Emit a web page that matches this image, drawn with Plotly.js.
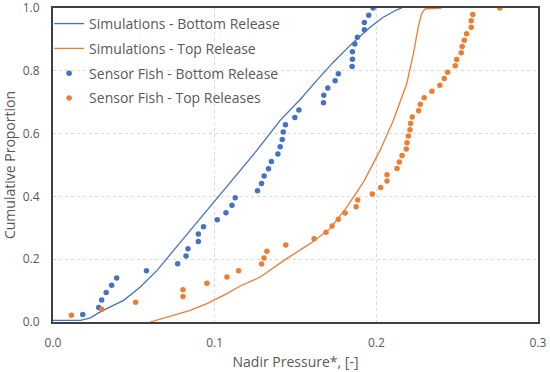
<!DOCTYPE html>
<html>
<head>
<meta charset="utf-8">
<script src="https://cdn.plot.ly/plotly-3.0.1.min.js"></script>
<style>html,body{margin:0;padding:0;background:#fff;}#chart{width:550px;height:372px;}</style>
</head>
<body>
<div id="chart"></div>
<script>
// Simulations - Bottom Release (line)
const simBottomX = [0, 0.017, 0.0232, 0.0273, 0.0335, 0.0437, 0.054, 0.0644, 0.0746, 0.0849, 0.0952, 0.1055, 0.1138, 0.1261, 0.1405, 0.1529, 0.1632, 0.1734, 0.1838, 0.1961, 0.2043, 0.2126, 0.2157];
const simBottomY = [0.0054, 0.0054, 0.0134, 0.0267, 0.0436, 0.069, 0.1114, 0.1645, 0.2282, 0.2918, 0.3555, 0.4192, 0.4723, 0.5465, 0.642, 0.7088, 0.7693, 0.8275, 0.8809, 0.9389, 0.9707, 0.9943, 1.0];

// Simulations - Top Release (line)
const simTopX = [0.0602, 0.0746, 0.0849, 0.0952, 0.1076, 0.1158, 0.1282, 0.1436, 0.159, 0.1714, 0.1817, 0.192, 0.2023, 0.2105, 0.2188, 0.2229, 0.2259, 0.228, 0.2301, 0.2404];
const simTopY = [0, 0.0213, 0.0372, 0.0586, 0.0904, 0.1146, 0.1432, 0.1986, 0.2495, 0.2973, 0.366, 0.4456, 0.5465, 0.642, 0.7588, 0.8542, 0.9389, 0.9815, 0.9975, 1.0];

// Sensor Fish - Bottom Release (points)
const fishBottomX = [0.0184, 0.0283, 0.0301, 0.0329, 0.0363, 0.0394, 0.0578, 0.0771, 0.0823, 0.0835, 0.0899, 0.0899, 0.0931, 0.1016, 0.107, 0.1107, 0.1127, 0.1265, 0.129, 0.1306, 0.1333, 0.1351, 0.1391, 0.1405, 0.1418, 0.1424, 0.1438, 0.1496, 0.1521, 0.1673, 0.1675, 0.17, 0.1745, 0.1765, 0.185, 0.1852, 0.1852, 0.1867, 0.1883, 0.1926, 0.1926, 0.1953, 0.198];
const fishBottomY = [0.0236, 0.0458, 0.07, 0.0936, 0.1168, 0.14, 0.1636, 0.1859, 0.21, 0.233, 0.256, 0.28, 0.303, 0.326, 0.348, 0.372, 0.396, 0.418, 0.441, 0.465, 0.488, 0.511, 0.535, 0.558, 0.581, 0.605, 0.628, 0.651, 0.675, 0.698, 0.722, 0.745, 0.768, 0.791, 0.814, 0.837, 0.861, 0.885, 0.907, 0.931, 0.954, 0.977, 1.0];

// Sensor Fish - Top Releases (points)
const fishTopX = [0.0114, 0.0301, 0.0511, 0.0804, 0.0804, 0.0952, 0.1076, 0.1148, 0.129, 0.1305, 0.1323, 0.144, 0.1615, 0.1689, 0.1726, 0.1765, 0.1807, 0.1875, 0.1885, 0.1975, 0.2027, 0.2066, 0.2066, 0.2128, 0.2142, 0.2159, 0.2185, 0.219, 0.2198, 0.2208, 0.2212, 0.2222, 0.2262, 0.2272, 0.2296, 0.2344, 0.2393, 0.242, 0.2441, 0.2488, 0.2497, 0.2525, 0.2531, 0.2544, 0.2558, 0.2587, 0.2587, 0.2597, 0.2764];
const fishTopY = [0.0213, 0.0404, 0.0627, 0.0815, 0.1031, 0.1232, 0.1432, 0.1636, 0.1846, 0.2037, 0.225, 0.2451, 0.2654, 0.2855, 0.3055, 0.3269, 0.3469, 0.3673, 0.3883, 0.4074, 0.4287, 0.4488, 0.4691, 0.4892, 0.5092, 0.5306, 0.5506, 0.571, 0.592, 0.6123, 0.6324, 0.6525, 0.6728, 0.6938, 0.7142, 0.7352, 0.7543, 0.7756, 0.7957, 0.816, 0.8361, 0.8574, 0.8775, 0.8975, 0.9179, 0.9389, 0.9593, 0.9793, 1.0];

const seriesNames = ["Simulations - Bottom Release", "Simulations - Top Release", "Sensor Fish - Bottom Release", "Sensor Fish - Top Releases"];
const xTickVals = [0, 0.1, 0.2, 0.3];
const xTickText = ["0.0", "0.1", "0.2", "0.3"];
const yTickVals = [0, 0.2, 0.4, 0.6, 0.8, 1.0];
const yTickText = ["0.0", "0.2", "0.4", "0.6", "0.8", "1.0"];

const BLUE = "#4472C4", ORANGE = "#ED7D31", TXT = "#595959";
const FONT = "Open Sans, Noto Sans, sans-serif";

const traces = [
  {x: simBottomX, y: simBottomY, name: seriesNames[0], legendgroup: "g1", type: "scatter", mode: "lines", line: {color: BLUE, width: 1.3}},
  {x: simTopX, y: simTopY, name: seriesNames[1], legendgroup: "g2", type: "scatter", mode: "lines", line: {color: ORANGE, width: 1.3}},
  {x: fishBottomX, y: fishBottomY, name: seriesNames[2], legendgroup: "g3", type: "scatter", mode: "markers", marker: {color: BLUE, size: 5.5}},
  {x: fishTopX, y: fishTopY, name: seriesNames[3], legendgroup: "g4", type: "scatter", mode: "markers", marker: {color: ORANGE, size: 5.5}}
];

const layout = {
  width: 550, height: 372,
  margin: {l: 52.5, r: 11.7, t: 7.5, b: 50.3},
  paper_bgcolor: "#fff", plot_bgcolor: "#fff",
  font: {family: FONT, color: TXT, size: 12},
  showlegend: true,
  legend: {
    x: -0.008, xanchor: "left", y: 1.0, yanchor: "top",
    bgcolor: "rgba(0,0,0,0)", borderwidth: 0, tracegroupgap: 3.6,
    font: {family: FONT, size: 14, color: TXT}
  },
  xaxis: {
    range: [0, 0.3], tickvals: xTickVals, ticktext: xTickText,
    showline: true, linecolor: "#404040", linewidth: 2, mirror: true,
    showgrid: true, gridcolor: "#d9d9d9", griddash: "3px,3px", gridwidth: 1,
    zeroline: false, ticks: "", ticklabelstandoff: 9, ticklabeloverflow: "allow",
    tickfont: {size: 12, color: TXT},
    title: {text: "Nadir Pressure*, [-]", font: {size: 14, color: TXT}, standoff: 7}
  },
  yaxis: {
    range: [0, 1.0], tickvals: yTickVals, ticktext: yTickText,
    showline: true, linecolor: "#404040", linewidth: 2, mirror: true,
    showgrid: true, gridcolor: "#d9d9d9", griddash: "3px,3px", gridwidth: 1,
    zeroline: false, ticks: "", ticklabelstandoff: 9, ticklabeloverflow: "allow",
    tickfont: {size: 12, color: TXT},
    title: {text: "Cumulative Proportion", font: {size: 14, color: TXT}, standoff: 8}
  }
};

Plotly.newPlot("chart", traces, layout, {displayModeBar: false, staticPlot: true});
</script>
</body>
</html>
